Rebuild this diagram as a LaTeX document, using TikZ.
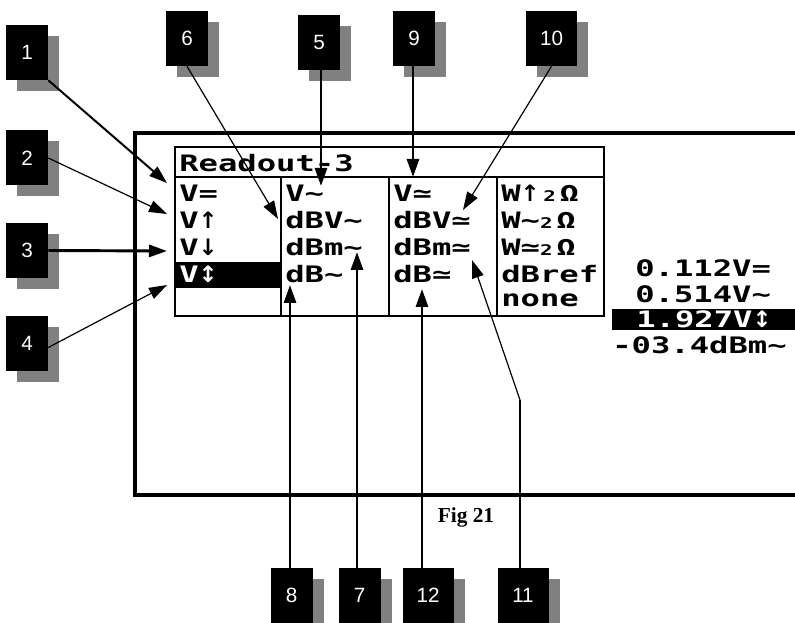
\documentclass[tikz,border=0pt]{standalone}
\usepackage{fontspec}
\setmainfont{Liberation Sans}
\newfontfamily\lcdfont[FakeStretch=1.42]{DejaVu Sans Mono}
\newfontfamily\arrfont{DejaVu Sans}
\newfontfamily\figfont{Liberation Serif}
\usetikzlibrary{arrows.meta,shadows}
\newcommand\tld{\textasciitilde}
\newcommand\two{{\fontsize{11}{11}\selectfont 2}}
\newcommand\up{{\arrfont\bfseries ↑}}
\newcommand\down{{\arrfont\bfseries ↓}}
\newcommand\updown{{\arrfont\bfseries ↕}}
\begin{document}
\begin{tikzpicture}[x=0.75pt, y=-0.75pt,
  callout/.style={fill=black, text=white, inner sep=0pt,
    minimum width=31.5pt, minimum height=41.25pt,
    font=\fontsize{15.5}{18}\selectfont,
    drop shadow={shadow xshift=8.25pt, shadow yshift=-8.25pt, fill=gray, opacity=1}},
  widecallout/.style={callout, minimum width=38.25pt},
  lcd/.style={font=\lcdfont\bfseries\fontsize{17}{19}\selectfont, inner sep=0pt, anchor=west},
  frame/.style={line width=2.2pt},
  fat/.style={line width=2.2pt, -{Triangle[length=13.5pt, width=9pt]}},
  mid/.style={line width=1.5pt, -{Triangle[length=13.5pt, width=9pt]}},
  slim/.style={line width=0.9pt, -{Triangle[length=13.5pt, width=9pt]}}]
  \useasboundingbox (0,0) rectangle (795,623);

  % screen outline
  \draw[line width=3pt] (795,133) -- (135,133) -- (135,495) -- (795,495);

  % menu
  \draw[frame] (175,147) rectangle (604,316);
  \draw[frame] (175,177) -- (604,177);
  \foreach \x in {281,389,497}
    \draw[frame] (\x,177) -- (\x,316);
  \fill (175,262) rectangle (281,288);
  \node[lcd] (title) at (179,163) {Readout-3};

  \node[lcd] (a1) at (179,193) {V=};
  \node[lcd] (a2) at (179,220) {V\up};
  \node[lcd] (a3) at (179,247) {V\down};
  \node[lcd, text=white] (a4) at (179,274) {V\updown};

  \node[lcd] (b1) at (285,193) {V\tld};
  \node[lcd] (b2) at (285,220) {dBV\tld};
  \node[lcd] (b3) at (285,247) {dBm\tld};
  \node[lcd] (b4) at (285,274) {dB\tld};

  \node[lcd] (d1) at (393,193) {V≃};
  \node[lcd] (d2) at (393,220) {dBV≃};
  \node[lcd] (d3) at (393,247) {dBm≃};
  \node[lcd] (d4) at (393,274) {dB≃};

  \node[lcd] (e1) at (501,193) {W\up\,\two\,Ω};
  \node[lcd] (e2) at (501,220) {W\tld\two\,Ω};
  \node[lcd] (e3) at (501,247) {W≃\two\,Ω};
  \node[lcd] (e4) at (501,274) {dBref};
  \node[lcd] (e5) at (501,300) {none};

  % readings
  \node[lcd] (r1) at (635,268) {0.112V=};
  \node[lcd] (r2) at (635,294) {0.514V\tld};
  \fill (612,309) rectangle (795,330);
  \node[lcd, text=white] (r3) at (636,319) {1.927V\updown};
  \node[lcd] (r4) at (612,345) {-03.4dBm\tld};

  \node[font=\figfont\bfseries\fontsize{16}{19}\selectfont] (fig) at (466,517) {Fig 21};

  % callouts
  \node[callout] (c1) at (27,52.5) {1};
  \node[callout] (c2) at (27,158) {2};
  \node[callout] (c3) at (27,250.5) {3};
  \node[callout] (c4) at (27,343.5) {4};
  \node[callout] (c6) at (187,38.5) {6};
  \node[callout] (c5) at (319,42.5) {5};
  \node[callout] (c9) at (414,38.5) {9};
  \node[widecallout] (c10) at (551.5,38.5) {10};
  \node[callout] (c8) at (291.5,595.5) {8};
  \node[callout] (c7) at (359.5,595.5) {7};
  \node[widecallout] (c12) at (428,595.5) {12};
  \node[widecallout] (c11) at (523,595.5) {11};

  % arrow tips
  \coordinate (t1) at (167,183);
  \coordinate (t2) at (167,214);
  \coordinate (t3) at (167,251);
  \coordinate (t4) at (167,285);
  \coordinate (t6) at (278,219);
  \coordinate (t5) at (321,186);
  \coordinate (t9) at (413,177);
  \coordinate (t10) at (463,210);
  \coordinate (t8) at (290,285);
  \coordinate (t7) at (357,252);
  \coordinate (t12) at (422,289);
  \coordinate (t11) at (472,260);
  \coordinate (k11) at (520,400);

  \draw[mid] (c1.south east) -- (t1);
  \draw[slim] (c2.east) -- (t2);
  \draw[fat] (c3.east) -- (t3);
  \draw[slim] ([yshift=-3pt]c4.east) -- (t4);
  \draw[slim] (c6.south) -- (t6);
  \draw[fat] (c5.south -| t5) -- (t5);
  \draw[fat] (c9.south -| t9) -- (t9);
  \draw[slim] (c10.south) -- (t10);
  \draw[fat] (c8.north -| t8) -- (t8);
  \draw[fat] (c7.north -| t7) -- (t7);
  \draw[fat] (c12.north -| t12) -- (t12);
  \draw[line width=2.2pt] (c11.north -| k11) -- (k11);
  \draw[slim] (k11) -- (t11);
\end{tikzpicture}
\end{document}
